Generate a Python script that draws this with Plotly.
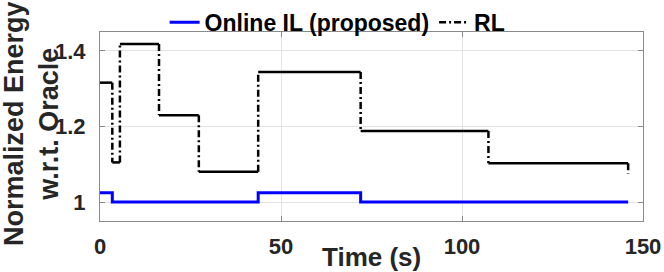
import plotly.graph_objects as go

# ---- data ----
rl_time = [0, 3.4, 5.5, 16.3, 27.3, 43.7, 72.0, 107.3, 145.9]
rl_energy = [1.316, 1.105, 1.418, 1.230, 1.080, 1.344, 1.188, 1.103, 1.075]

il_time = [0, 3.4, 43.7, 72.0, 145.9]
il_energy = [1.025, 1.000, 1.025, 1.000, 1.000]

x_ticks = [0, 50, 100, 150]
x_tick_labels = ["0", "50", "100", "150"]
y_ticks = [1.0, 1.2, 1.4]
y_tick_labels = ["1", "1.2", "1.4"]

# ---- build step segments (horizontal solid levels, dash-dot jumps) ----
def horizontal(t, v):
    xs, ys = [], []
    for i in range(len(t) - 1):
        xs += [t[i], t[i + 1], None]
        ys += [v[i], v[i], None]
    return xs, ys

def vertical(t, v):
    xs, ys = [], []
    for i in range(1, len(t)):
        xs += [t[i], t[i], None]
        ys += [v[i - 1], v[i], None]
    return xs, ys

FONT = "Liberation Sans, Arial, sans-serif"

fig = go.Figure()

fig.add_trace(go.Scatter(
    x=il_time, y=il_energy, mode="lines", line_shape="hv",
    line=dict(color="#0000ff", width=3),
    name="Online IL (proposed)", showlegend=True))

rh_x, rh_y = horizontal(rl_time, rl_energy)
rv_x, rv_y = vertical(rl_time, rl_energy)
fig.add_trace(go.Scatter(
    x=rh_x, y=rh_y, mode="lines", line=dict(color="black", width=2.5),
    showlegend=False, hoverinfo="skip"))
fig.add_trace(go.Scatter(
    x=rv_x, y=rv_y, mode="lines",
    line=dict(color="black", width=2.5, dash="7px,3px,2px,3px"),
    name="RL", showlegend=True))

axis_common = dict(
    showgrid=True, gridcolor="#e3e3e3", gridwidth=1,
    showline=True, linecolor="#8a8a8a", linewidth=1, mirror="ticks",
    ticks="inside", ticklen=5, tickcolor="#8a8a8a",
    zeroline=False, automargin=False,
    tickfont=dict(family=FONT, size=22, color="#262626", weight="bold"),
)

fig.update_xaxes(range=[0, 150], tickvals=x_ticks, ticktext=x_tick_labels,
                 ticklabelstandoff=6, **axis_common)
fig.update_yaxes(range=[0.95, 1.45], tickvals=y_ticks, ticktext=y_tick_labels,
                 ticklabelstandoff=9, **axis_common)

fig.add_annotation(
    text="Normalized Energy<br>w.r.t. Oracle", textangle=-90,
    xref="paper", yref="paper", x=-0.126, y=0.516,
    xanchor="center", yanchor="middle", showarrow=False,
    font=dict(family=FONT, size=27, color="#262626", weight="bold"))

fig.add_annotation(
    text="Time (s)", xref="paper", yref="paper", x=0.5, y=-0.19,
    xanchor="center", yanchor="middle", showarrow=False,
    font=dict(family=FONT, size=26, color="#262626", weight="bold"))

fig.update_layout(
    width=664, height=272,
    margin=dict(l=100, r=21, t=32, b=51, autoexpand=False),
    paper_bgcolor="white", plot_bgcolor="white",
    legend=dict(orientation="h", x=0.119, y=1.165, xanchor="left", yanchor="top",
                bgcolor="rgba(0,0,0,0)", borderwidth=0,
                font=dict(family=FONT, size=23, color="black", weight="bold"),
                itemwidth=30, tracegroupgap=0),
    showlegend=True,
)

fig.write_html("out.html", config={"displayModeBar": False},
               post_script="document.body.style.margin='0';document.body.style.padding='0';")
